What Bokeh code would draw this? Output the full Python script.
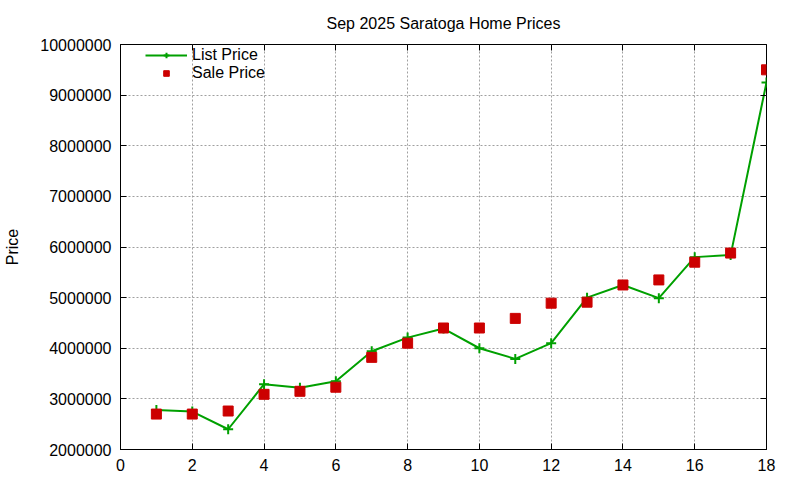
from bokeh.plotting import figure
from bokeh.models import (Range1d, SingleIntervalTicker, BasicTickFormatter, LinearAxis,
                          Legend, LegendItem, CustomLabelingPolicy, CustomJSTickFormatter)
from bokeh.embed import file_html
from bokeh.resources import INLINE

# Home index (x) and prices
homes = list(range(1, 19))
list_price = [2780000, 2750000, 2400000, 3290000, 3220000, 3350000, 3940000, 4210000, 4390000,
              4000000, 3790000, 4100000, 5000000, 5250000, 4990000, 5800000, 5840000, 9250000]
sale_price = [2700000, 2700000, 2760000, 3090000, 3150000, 3230000, 3820000, 4100000, 4400000,
              4400000, 4590000, 4890000, 4910000, 5250000, 5350000, 5700000, 5880000, 9500000]

x_ticks_interval = 2
y_ticks_interval = 1000000

FONT = "Liberation Sans"
GREEN = "#00a000"
RED = "#cc0000"

p = figure(width=800, height=480, output_backend="svg", toolbar_location=None,
           x_range=Range1d(0, 18), y_range=Range1d(2000000, 10000000),
           min_border_left=120, min_border_right=34, min_border_top=44, min_border_bottom=31,
           title="Sep 2025 Saratoga Home Prices")

p.title.align = "center"
p.title.text_font = FONT
p.title.text_font_size = "16px"
p.title.text_font_style = "normal"
p.title.text_color = "#000000"
p.title.standoff = 17

p.outline_line_color = "black"
p.outline_line_width = 1

# axes
p.xaxis.ticker = SingleIntervalTicker(interval=x_ticks_interval)
p.yaxis.ticker = SingleIntervalTicker(interval=y_ticks_interval)
p.yaxis.formatter = BasicTickFormatter(use_scientific=False)
p.yaxis.axis_label = "Price"
p.yaxis.axis_label_text_font = FONT
p.yaxis.axis_label_text_font_size = "16px"
p.yaxis.axis_label_text_font_style = "normal"
p.yaxis.axis_label_text_color = "black"
p.yaxis.axis_label_standoff = 16
for ax in (p.xaxis, p.yaxis):
    ax.major_label_text_font = FONT
    ax.major_label_text_font_size = "16px"
    ax.major_label_text_color = "black"
    ax.major_tick_in = 6
    ax.major_tick_out = 0
    ax.minor_tick_line_color = None
    ax.axis_line_color = "black"
    ax.major_tick_line_color = "black"

# mirrored ticks on the top and right borders, without labels
no_labels = CustomLabelingPolicy(code="for (const i of indices) { indices.unset(i) } return indices")
blank = CustomJSTickFormatter(code="return ''")
top = LinearAxis(ticker=SingleIntervalTicker(interval=x_ticks_interval), formatter=blank,
                 major_label_policy=no_labels, major_tick_in=6, major_tick_out=0,
                 major_label_standoff=0, minor_tick_line_color=None, axis_line_color=None)
right = LinearAxis(ticker=SingleIntervalTicker(interval=y_ticks_interval), formatter=blank,
                   major_label_policy=no_labels, major_tick_in=6, major_tick_out=0,
                   major_label_standoff=0, minor_tick_line_color=None, axis_line_color=None)
p.add_layout(top, "above")
p.add_layout(right, "right")

# grid
p.xgrid.ticker = SingleIntervalTicker(interval=x_ticks_interval)
p.ygrid.ticker = SingleIntervalTicker(interval=y_ticks_interval)
for g in (p.xgrid, p.ygrid):
    g.grid_line_color = "#a0a0a0"
    g.grid_line_dash = "2 2"
    g.grid_line_width = 1

# series
ln = p.line(homes, list_price, line_color=GREEN, line_width=2)
pl = p.scatter(homes, list_price, marker="cross", size=10, line_color=GREEN, line_width=2)
sq = p.scatter(homes, sale_price, marker="square", size=10, fill_color=RED, line_color=RED)

legend = Legend(items=[LegendItem(label="List Price", renderers=[ln, pl]),
                       LegendItem(label="Sale Price", renderers=[sq])],
                location=(25, 367), border_line_color=None, background_fill_alpha=0,
                label_text_font=FONT, label_text_font_size="16px", label_text_color="black",
                glyph_width=42, glyph_height=14, spacing=-2, padding=0, margin=0,
                label_height=14)
p.add_layout(legend)

open("out.html", "w").write(file_html(p, INLINE))
